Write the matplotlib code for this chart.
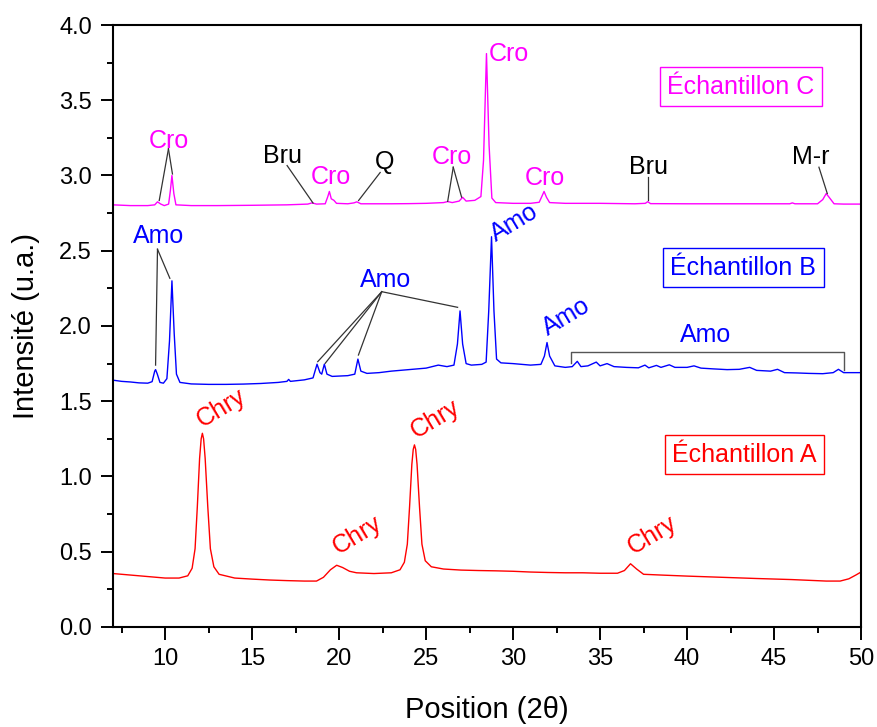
import matplotlib
matplotlib.use("Agg")
import matplotlib.pyplot as plt
from matplotlib.ticker import MultipleLocator

plt.rcParams["font.family"] = ["Liberation Sans", "DejaVu Sans"]

# --- Échantillon A (red) : 2theta / intensity
x_a = [7.0, 8.0, 9.0, 10.0, 10.8, 11.3, 11.55, 11.72, 11.85, 11.98, 12.07, 12.14, 12.21, 12.3,
       12.45, 12.6, 12.8, 13.1, 14.0, 15.0, 16.0, 17.0, 18.0, 18.7, 19.1, 19.5, 19.86, 20.2,
       20.6, 21.0, 22.0, 23.0, 23.5, 23.75, 23.92, 24.05, 24.18, 24.26, 24.33, 24.4, 24.48,
       24.62, 24.76, 24.95, 25.3, 26.0, 27.0, 28.0, 29.0, 30.0, 31.0, 32.0, 33.0, 34.0, 35.0,
       36.0, 36.4, 36.75, 37.1, 37.5, 38.5, 40.0, 42.0, 44.0, 46.0, 48.0, 48.8, 49.3,
       49.7, 50.0]
y_a = [0.355, 0.345, 0.335, 0.325, 0.325, 0.34, 0.39, 0.52, 0.80, 1.12, 1.25, 1.287, 1.25, 1.12,
       0.80, 0.52, 0.40, 0.35, 0.325, 0.318, 0.312, 0.308, 0.305, 0.305, 0.33, 0.38, 0.41, 0.395,
       0.37, 0.36, 0.355, 0.36, 0.38, 0.43, 0.55, 0.80, 1.08, 1.18, 1.21, 1.18, 1.08,
       0.80, 0.55, 0.44, 0.40, 0.385, 0.378, 0.375, 0.373, 0.37, 0.365, 0.362, 0.36, 0.36, 0.357,
       0.357, 0.375, 0.42, 0.385, 0.35, 0.345, 0.338, 0.33, 0.322, 0.315, 0.305, 0.305, 0.32,
       0.345, 0.365]

# --- Échantillon B (blue)
x_b = [7.0, 7.5, 8.0, 8.5, 9.0, 9.25, 9.4, 9.45, 9.55, 9.7, 9.9, 10.1, 10.25, 10.39, 10.52,
       10.65, 10.85, 11.5, 12.5, 13.5, 14.5, 15.5, 16.5, 17.0, 17.1, 17.2, 18.0, 18.5, 18.73,
       18.9, 19.0, 19.15, 19.3, 19.6, 20.5, 20.9, 21.08, 21.25, 21.6, 22.3, 23.0, 24.0, 25.0,
       25.7, 26.2, 26.6, 26.8, 26.95, 27.1, 27.3, 27.6, 28.2, 28.45, 28.6, 28.76, 28.9, 29.05,
       29.3, 30.0, 31.0, 31.6, 31.8, 31.95, 32.1, 32.4, 33.0, 33.4, 33.69, 33.9, 34.3, 34.78,
       35.0, 35.4, 35.8, 36.5, 37.2, 37.58, 37.8, 38.24, 38.5, 38.98, 39.3, 40.0, 40.4, 40.8,
       41.5, 42.3, 43.0, 43.6, 44.0, 44.8, 45.2, 45.6, 46.3, 47.0, 47.8, 48.4, 48.7, 49.0,
       49.4, 50.0]
y_b = [1.64, 1.632, 1.628, 1.622, 1.62, 1.63, 1.70, 1.71, 1.68, 1.625, 1.62, 1.65, 1.90, 2.30,
       1.95, 1.68, 1.625, 1.615, 1.612, 1.612, 1.614, 1.618, 1.625, 1.632, 1.645, 1.632, 1.642,
       1.655, 1.746, 1.69, 1.68, 1.746, 1.68, 1.665, 1.67, 1.68, 1.78, 1.70, 1.685, 1.69, 1.70,
       1.71, 1.72, 1.74, 1.73, 1.74, 1.88, 2.10, 1.88, 1.75, 1.74, 1.745, 1.76, 2.10, 2.593,
       2.10, 1.78, 1.755, 1.75, 1.74, 1.745, 1.80, 1.89, 1.80, 1.735, 1.725, 1.73, 1.765,
       1.73, 1.735, 1.76, 1.735, 1.75, 1.73, 1.725, 1.722, 1.74, 1.722, 1.738, 1.725, 1.742,
       1.725, 1.725, 1.735, 1.72, 1.715, 1.71, 1.712, 1.725, 1.705, 1.70, 1.712, 1.69, 1.688,
       1.685, 1.683, 1.69, 1.712, 1.69, 1.69, 1.69]

# --- Échantillon C (magenta)
x_c = [7.0, 8.0, 9.0, 9.4, 9.56, 9.75, 9.95, 10.2, 10.3, 10.39, 10.5, 10.62, 11.5, 13.0, 15.0,
       17.0, 18.2, 18.44, 18.7, 19.2, 19.35, 19.44, 19.55, 19.7, 19.85, 20.5, 20.85, 21.02,
       21.25, 22.0, 23.0, 24.0, 25.0, 26.0, 26.24, 26.5, 26.9, 27.1, 27.3, 27.8, 28.15, 28.3,
       28.47, 28.62, 28.78, 29.0, 30.0, 31.0, 31.5, 31.65, 31.78, 31.92, 32.1, 33.0, 35.0,
       37.0, 37.6, 37.74, 37.9, 40.0, 42.0, 44.0, 45.9, 46.05, 46.2, 47.5, 47.8, 48.0, 48.2,
       48.45, 49.0, 50.0]
y_c = [2.805, 2.80, 2.80, 2.805, 2.825, 2.81, 2.80, 2.81, 2.90, 3.00, 2.88, 2.805, 2.80, 2.80,
       2.802, 2.805, 2.81, 2.818, 2.81, 2.812, 2.86, 2.894, 2.845, 2.835, 2.815, 2.812, 2.818,
       2.825, 2.812, 2.812, 2.812, 2.813, 2.815, 2.82, 2.827, 2.82, 2.83, 2.855, 2.83, 2.835,
       2.86, 3.10, 3.81, 3.20, 2.85, 2.82, 2.815, 2.815, 2.822, 2.86, 2.894, 2.855, 2.82, 2.815,
       2.815, 2.812, 2.815, 2.826, 2.813, 2.812, 2.812, 2.812, 2.812, 2.818, 2.812, 2.812, 2.84,
       2.88, 2.85, 2.812, 2.81, 2.81]

# sample boxes (label, x, y)
boxes = [("Échantillon A", 43.3, 1.143), ("Échantillon B", 43.23, 2.387),
         ("Échantillon C", 43.09, 3.59)]

# upright labels: text, x, y, pointer segments [(x0, y0, x1, y1), ...]
c_labels = [("Cro", 10.22, 3.23, [(10.19, 3.177, 9.66, 2.834), (10.19, 3.177, 10.42, 3.01)]),
            ("Cro", 19.53, 2.99, []),
            ("Cro", 26.47, 3.12, [(26.56, 3.055, 26.24, 2.828), (26.56, 3.055, 27.04, 2.856)]),
            ("Cro", 31.82, 2.985, [])]
c_top = ("Cro", 28.58, 3.81)
k_labels = [("Bru", 16.73, 3.13, [(17.01, 3.066, 18.5, 2.817)]),
            ("Q", 22.61, 3.09, [(22.36, 3.02, 21.12, 2.834)]),
            ("Bru", 37.8, 3.055, [(37.74, 2.99, 37.74, 2.834)]),
            ("M-r", 47.1, 3.12, [(47.58, 3.055, 48.06, 2.88)])]
b_labels = [("Amo", 9.6, 2.598, [(9.56, 2.51, 9.45, 1.74), (9.56, 2.51, 10.27, 2.317)]),
            ("Amo", 22.68, 2.306, [(22.45, 2.228, 18.77, 1.763), (22.45, 2.228, 19.2, 1.752),
                                   (22.45, 2.228, 21.11, 1.807), (22.45, 2.228, 26.81, 2.124)]),
            ("Amo", 41.08, 1.94, [])]
# rotated labels (bottom-left anchor)
b_rot = [("Amo", 29.15, 2.527), ("Amo", 32.16, 1.907)]
a_rot = [("Chry", 12.27, 1.298), ("Chry", 20.1, 0.45), ("Chry", 24.55, 1.225), ("Chry", 37.07, 0.45)]
# bracket for the Amo group
bracket_x = [33.35, 33.35, 49.01, 49.01]
bracket_y = [1.752, 1.829, 1.829, 1.708]

red, blue, mag = "#ff0000", "#0000ff", "#ff00ff"

fig = plt.figure(figsize=(8.77, 7.27), dpi=100)
ax = fig.add_axes([0.1288, 0.1376, 0.853, 0.828])

ax.plot(x_a, y_a, color=red, lw=1.0)
ax.plot(x_b, y_b, color=blue, lw=1.0)
ax.plot(x_c, y_c, color=mag, lw=1.0)

fs = 18
for txt, x, y in boxes:
    col = {"A": red, "B": blue, "C": mag}[txt[-1]]
    ax.text(x, y, txt, color=col, fontsize=fs, ha="center", va="center",
            bbox=dict(boxstyle="square,pad=0.3", fc="white", ec=col, lw=1.0))


def put(labels, col):
    for txt, x, y, ptrs in labels:
        ax.text(x, y, txt, color=col, fontsize=fs, ha="center", va="center")
        for x0, y0, x1, y1 in ptrs:
            ax.plot([x0, x1], [y0, y1], color="#333333", lw=0.9)


put(c_labels, mag)
put(k_labels, "black")
put(b_labels, blue)
ax.text(c_top[1], c_top[2], c_top[0], color=mag, fontsize=fs, ha="left", va="center")
for txt, x, y in b_rot:
    ax.text(x, y, txt, color=blue, fontsize=fs, rotation=31, rotation_mode="anchor",
            ha="left", va="bottom")
for txt, x, y in a_rot:
    ax.text(x, y, txt, color=red, fontsize=fs, rotation=31, rotation_mode="anchor",
            ha="left", va="bottom")
ax.plot(bracket_x, bracket_y, color="#555555", lw=1.0)

ax.set_xlim(7, 50)
ax.set_ylim(0, 4)
ax.xaxis.set_major_locator(MultipleLocator(5))
ax.xaxis.set_minor_locator(MultipleLocator(2.5))
ax.yaxis.set_major_locator(MultipleLocator(0.5))
ax.yaxis.set_minor_locator(MultipleLocator(0.25))
ax.yaxis.set_major_formatter(matplotlib.ticker.FormatStrFormatter("%.1f"))
ax.tick_params(which="major", direction="out", length=9, width=1.4, labelsize=17, pad=6)
ax.tick_params(which="minor", direction="out", length=4.5, width=1.4)
for s in ax.spines.values():
    s.set_linewidth(1.5)

ax.set_xlabel("Position (2θ)", fontsize=21, labelpad=19)
ax.set_ylabel("Intensité (u.a.)", fontsize=21, labelpad=14)

fig.savefig("out.png", dpi=100)
plt.close()
